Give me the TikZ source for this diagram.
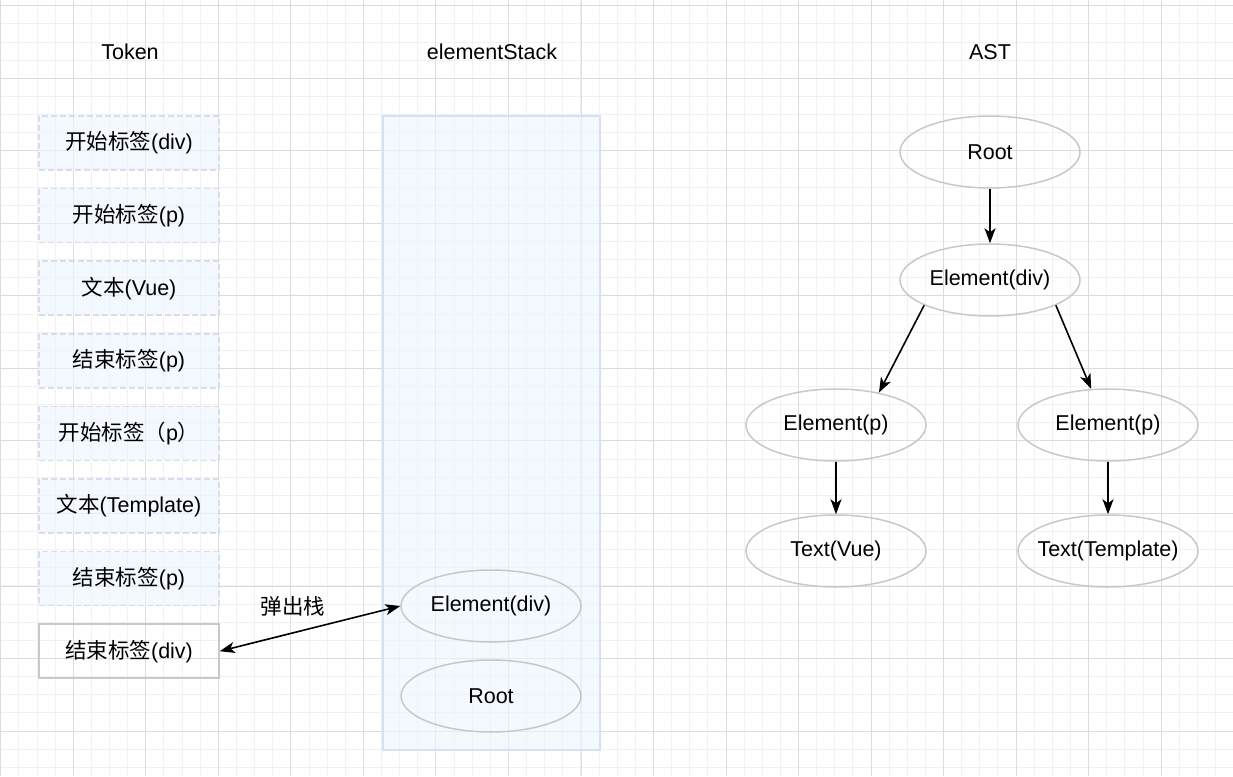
\documentclass[tikz,border=0pt]{standalone}
\usepackage{fontspec}
\setmainfont{Liberation Sans}
\newfontfamily\cjk{Noto Sans CJK SC}
\usetikzlibrary{positioning}
\usetikzlibrary{arrows.meta}
\usetikzlibrary{shapes.geometric}
\definecolor{gridminor}{RGB}{241,241,241}
\definecolor{gridmajor}{RGB}{220,220,220}
\definecolor{tokenline}{RGB}{214,222,236}
\definecolor{tokenfill}{RGB}{238,244,255}
\definecolor{stackline}{RGB}{212,225,245}
\definecolor{stackfill}{RGB}{238,244,255}
\definecolor{shapeline}{RGB}{200,200,200}

\begin{document}
\begin{tikzpicture}[x=1pt,y=-1pt,font=\fontsize{21.5}{26}\selectfont]
\tikzset{tokenbox/.style={rectangle,minimum width=180pt,minimum height=54pt, draw=tokenline, dash pattern=on 6pt off 3pt, line width=1.5pt, fill=tokenfill, fill opacity=0.6, text opacity=1}}
\tikzset{lastbox/.style={rectangle,minimum width=180pt,minimum height=54pt, draw=shapeline, line width=1.5pt}}
\tikzset{stackbox/.style={rectangle,minimum width=217pt,minimum height=634pt, draw=stackline, line width=1.5pt, fill=stackfill, fill opacity=0.6}}
\tikzset{astnode/.style={ellipse,minimum width=180pt,minimum height=72pt, inner xsep=-25pt, draw=shapeline, line width=1.5pt}}
\tikzset{link/.style={line width=1.6pt, -{Stealth[length=15pt,width=11pt,inset=4pt]}}}
\useasboundingbox (0,0) rectangle (1233,776);
\fill[white] (0,0) rectangle (1233,776);
% background grid
\foreach \i in {0,...,67} \draw[gridminor,line width=1pt] ({0.8+18.13*\i},0) -- ({0.8+18.13*\i},776);
\foreach \i in {0,...,42} \draw[gridminor,line width=1pt] (0,{5.8+18.13*\i}) -- (1233,{5.8+18.13*\i});
\foreach \i in {0,...,16} \draw[gridmajor,line width=1pt] ({0.8+72.53*\i},0) -- ({0.8+72.53*\i},776);
\foreach \i in {0,...,10} \draw[gridmajor,line width=1pt] (0,{5.8+72.53*\i}) -- (1233,{5.8+72.53*\i});

\node (ttoken) at (130,52) {Token};
\node (tstack) at (492,52) {elementStack};
\node (tast) at (990,52) {AST};

\node[tokenbox] (t1) at (129,143) {{\cjk 开始标签}(div)};
\node[tokenbox, below=17.1pt of t1] (t2) {{\cjk 开始标签}(p)};
\node[tokenbox, below=17.1pt of t2] (t3) {{\cjk 文本}(Vue)};
\node[tokenbox, below=17.1pt of t3] (t4) {{\cjk 结束标签}(p)};
\node[tokenbox, below=17.1pt of t4] (t5) {{\cjk 开始标签（}p{\cjk ）}};
\node[tokenbox, below=17.1pt of t5] (t6) {{\cjk 文本}(Template)};
\node[tokenbox, below=17.1pt of t6] (t7) {{\cjk 结束标签}(p)};
\node[lastbox, below=17.1pt of t7] (t8) {{\cjk 结束标签}(div)};

\node[stackbox] (stack) at (491.5,433) {};
\node[astnode] (sdiv) at (491,606) {Element(div)};
\node[astnode] (sroot) at (491,696) {Root};

\node[astnode] (aroot) at (990,152) {Root};
\node[astnode] (adiv) at (990,280) {Element(div)};
\node[astnode] (ap1) at (836,425) {Element(p)};
\node[astnode] (ap2) at (1108,425) {Element(p)};
\node[astnode] (avue) at (836,551) {Text(Vue)};
\node[astnode] (atpl) at (1108,551) {Text(Template)};

\draw[link] (aroot) -- (adiv);
\draw[link] (adiv.201) -- (ap1.37);
\draw[link] (adiv.339) -- (ap2.115);
\draw[link] (ap1) -- (avue);
\draw[link] (ap2) -- (atpl);
\draw[link, {Stealth[length=15pt,width=11pt,inset=4pt]}-{Stealth[length=15pt,width=11pt,inset=4pt]}] (t8.east) -- (sdiv.west) node[midway, shift={(-17pt,22pt)}] {\cjk 弹出栈};
\end{tikzpicture}
\end{document}
